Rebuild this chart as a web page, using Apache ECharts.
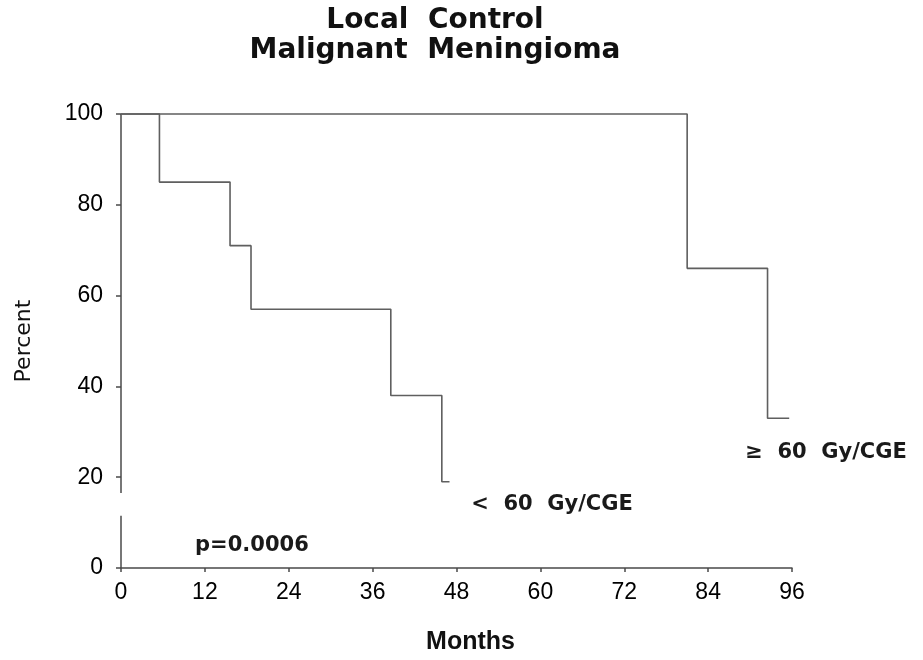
<!DOCTYPE html>
<html>
<head>
<meta charset="utf-8">
<script src="https://cdn.jsdelivr.net/npm/echarts@6/dist/echarts.min.js"></script>
<style>
  html, body { margin: 0; padding: 0; background: #fff; }
  #chart { width: 923px; height: 660px; }
</style>
</head>
<body>
<div id="chart"></div>
<script>
// Kaplan-Meier local control, malignant meningioma, split by dose
const lowDoseMonths = [0, 5.5, 15.6, 18.6, 38.6, 45.9, 47];
const lowDosePct    = [100, 85, 71, 57, 38, 19, 19];
const highDoseMonths = [0, 81, 92.5, 95.6];
const highDosePct    = [100, 66, 33, 33];

const xTicks = [0, 12, 24, 36, 48, 60, 72, 84, 96];
const yTicks = [0, 20, 40, 60, 80, 100];

// broken percent axis: drawn from 100 down to the upper gap edge, then from the lower gap edge to 0
const yBreakTop = 16.5;
const yBreakBottom = 11.5;

const lowDoseLabel = '<  60  Gy/CGE';
const highDoseLabel = '\u2265  60  Gy/CGE';
const pLabel = 'p=0.0006';

const toPoints = (xs, ys) => xs.map((x, i) => [x, ys[i]]);

const curveStyle = { color: '#5f5f5f', width: 1.6 };
const axisStyle = { color: '#4a4a4a', width: 1.5 };
const noteFont = { fontFamily: 'DejaVu Sans', fontWeight: 'bold', fontSize: 21, color: '#1a1a1a' };

function note(name, month, pct, text) {
  return {
    name: name,
    type: 'scatter',
    symbolSize: 0,
    silent: true,
    clip: false,
    itemStyle: { opacity: 1 },
    data: [[month, pct]],
    label: {
      show: true,
      position: 'right',
      distance: 0,
      align: 'left',
      verticalAlign: 'middle',
      opacity: 1,
      formatter: () => text,
      ...noteFont
    }
  };
}

const chart = echarts.init(document.getElementById('chart'), null, { renderer: 'canvas' });

chart.setOption({
  animation: false,
  backgroundColor: '#ffffff',
  graphic: [
    {
      type: 'text',
      x: 435,
      y: 6,
      style: {
        text: 'Local  Control\nMalignant  Meningioma',
        textAlign: 'center',
        fontFamily: 'DejaVu Sans',
        fontWeight: 'bold',
        fontSize: 28,
        lineHeight: 30,
        fill: '#111'
      }
    }
  ],
  grid: { left: 121, right: 131, top: 114, bottom: 86, containLabel: false },
  xAxis: {
    type: 'value',
    min: 0,
    max: 96,
    interval: 12,
    name: 'Months',
    nameLocation: 'middle',
    nameGap: 62,
    nameTextStyle: {
      fontFamily: 'Liberation Sans',
      fontWeight: 'bold',
      fontSize: 25,
      color: '#111',
      padding: [0, 0, 0, 28]
    },
    axisLine: { show: true, lineStyle: axisStyle },
    axisTick: { show: true, length: 4, lineStyle: axisStyle },
    axisLabel: {
      margin: 13,
      fontFamily: 'Liberation Sans',
      fontSize: 23,
      color: '#000',
      formatter: v => (xTicks.includes(v) ? String(v) : '')
    },
    splitLine: { show: false }
  },
  yAxis: {
    type: 'value',
    min: 0,
    max: 100,
    interval: 20,
    name: 'Percent',
    nameLocation: 'middle',
    nameGap: 86,
    nameTextStyle: {
      fontFamily: 'DejaVu Sans',
      fontSize: 22,
      color: '#111'
    },
    axisLine: { show: false },
    axisTick: { show: true, length: 5, lineStyle: axisStyle },
    axisLabel: {
      margin: 18,
      fontFamily: 'Liberation Sans',
      fontSize: 23,
      color: '#000',
      formatter: v => (yTicks.includes(v) ? String(v) : '')
    },
    splitLine: { show: false }
  },
  series: [
    {
      name: 'axis upper',
      type: 'line',
      silent: true,
      clip: false,
      symbol: 'none',
      lineStyle: axisStyle,
      data: [[0, 100], [0, yBreakTop]]
    },
    {
      name: 'axis lower',
      type: 'line',
      silent: true,
      clip: false,
      symbol: 'none',
      lineStyle: axisStyle,
      data: [[0, yBreakBottom], [0, 0]]
    },
    {
      name: '< 60 Gy/CGE',
      type: 'line',
      step: 'end',
      symbol: 'none',
      clip: false,
      lineStyle: curveStyle,
      data: toPoints(lowDoseMonths, lowDosePct)
    },
    {
      name: '\u2265 60 Gy/CGE',
      type: 'line',
      step: 'end',
      symbol: 'none',
      clip: false,
      lineStyle: curveStyle,
      data: toPoints(highDoseMonths, highDosePct)
    },
    note('low dose label', 50.1, 13.9, lowDoseLabel),
    note('high dose label', 89.3, 25.4, highDoseLabel),
    note('p value', 10.6, 4.9, pLabel)
  ]
});
</script>
</body>
</html>
